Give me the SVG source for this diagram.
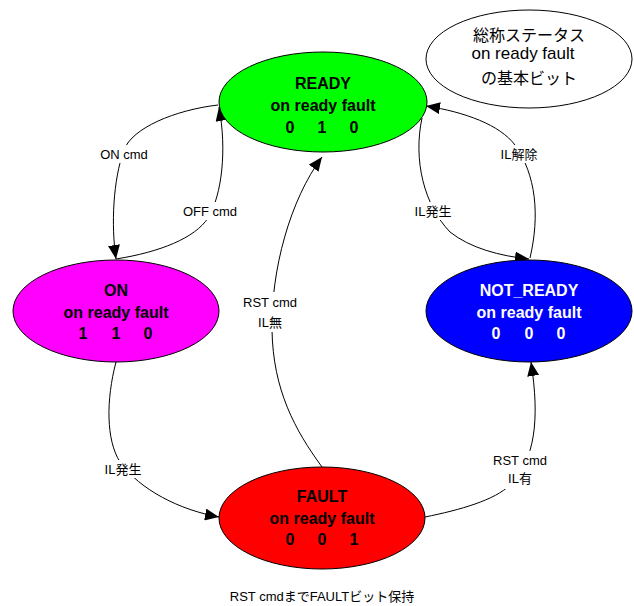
<svg xmlns="http://www.w3.org/2000/svg" width="634" height="606" viewBox="0 0 634 606">
<style>
.node{stroke:#000;stroke-width:1}
.t{font-family:"Liberation Sans","Noto Sans CJK JP",sans-serif;font-weight:bold;font-size:16px;text-anchor:middle}
.w{fill:#fff}
.lbl{font-family:"Liberation Sans","Noto Sans CJK JP",sans-serif;font-size:13px;text-anchor:middle;fill:#000}
.info{font-family:"Liberation Sans","Noto Sans CJK JP",sans-serif;font-size:16px;text-anchor:middle;fill:#000}
.edge{fill:none;stroke:#000;stroke-width:1;marker-end:url(#ah)}
.bg{fill:#fff;stroke:none}
</style>
<defs>
<marker id="ah" markerUnits="userSpaceOnUse" markerWidth="15" markerHeight="12" refX="14" refY="6" orient="auto">
<path d="M0,0 L14,6 L0,12 z" fill="#000"/>
</marker>
</defs>
<rect width="634" height="606" fill="#fff"/>
<g id="connectors">
<path class="edge" d="M218,105 C175,110 132,128 124,150 C113,180 111,225 116,259"/>
<path class="edge" d="M116,259 C160,252 195,238 208,218 C222,195 227,150 219,107"/>
<path class="edge" d="M422,118 C413,160 424,205 450,232 C470,248 500,256 529,259"/>
<path class="edge" d="M530,258 C540,215 536,175 515,145 C500,125 465,112 426,106"/>
<path class="edge" d="M116,362 C106,400 106,440 120,462 C140,490 180,510 219,517"/>
<path class="edge" d="M322,467 C295,430 273,390 272,330 C271,270 290,200 322,157"/>
<path class="edge" d="M425,517 C460,510 495,500 510,485 C535,460 540,420 531,362"/>
<rect class="bg" x="98" y="145" width="52" height="18"/>
<rect class="bg" x="181" y="202" width="58" height="18"/>
<rect class="bg" x="496" y="145" width="46" height="18"/>
<rect class="bg" x="410" y="202" width="46" height="18"/>
<rect class="bg" x="242" y="292" width="56" height="40"/>
<rect class="bg" x="100" y="460" width="46" height="18"/>
<rect class="bg" x="492" y="451" width="56" height="38"/>
<text class="lbl" x="124" y="159">ON cmd</text>
<text class="lbl" x="210" y="216">OFF cmd</text>
<text class="lbl" x="519" y="159">IL解除</text>
<text class="lbl" x="433" y="216">IL発生</text>
<text class="lbl" x="270" y="307">RST cmd</text>
<text class="lbl" x="270" y="327">IL無</text>
<text class="lbl" x="123" y="474">IL発生</text>
<text class="lbl" x="520" y="465">RST cmd</text>
<text class="lbl" x="520" y="483">IL有</text>
</g>
<g id="info">
<ellipse cx="529" cy="59" rx="103" ry="49" fill="#fff" class="node"/>
<text class="info" x="529" y="41">総称ステータス</text>
<text class="info" x="523" y="59" style="font-size:17px">on ready fault</text>
<text class="info" x="529" y="84">の基本ビット</text>
</g>
<g id="ready">
<ellipse cx="323" cy="102" rx="104" ry="50" fill="#00ff00" class="node"/>
<text class="t" x="323" y="89">READY</text>
<text class="t" x="323" y="111">on ready fault</text>
<text class="t" x="290" y="133">0</text><text class="t" x="322" y="133">1</text><text class="t" x="354" y="133">0</text>
</g>
<g id="on">
<ellipse cx="116" cy="311" rx="103" ry="51" fill="#ff00ff" class="node"/>
<text class="t" x="116" y="296">ON</text>
<text class="t" x="116" y="318">on ready fault</text>
<text class="t" x="83" y="339">1</text><text class="t" x="116" y="339">1</text><text class="t" x="148" y="339">0</text>
</g>
<g id="not_ready">
<ellipse cx="529" cy="311" rx="103" ry="51" fill="#0000ff" class="node"/>
<text class="t w" x="529" y="296">NOT_READY</text>
<text class="t w" x="529" y="318">on ready fault</text>
<text class="t w" x="496" y="339">0</text><text class="t w" x="529" y="339">0</text><text class="t w" x="561" y="339">0</text>
</g>
<g id="fault">
<ellipse cx="322" cy="518" rx="103" ry="51" fill="#ff0000" class="node"/>
<text class="t" x="322" y="502">FAULT</text>
<text class="t" x="322" y="524">on ready fault</text>
<text class="t" x="290" y="545">0</text><text class="t" x="322" y="545">0</text><text class="t" x="354" y="545">1</text>
</g>
<text class="lbl" x="322" y="601">RST cmdまでFAULTビット保持</text>
</svg>
